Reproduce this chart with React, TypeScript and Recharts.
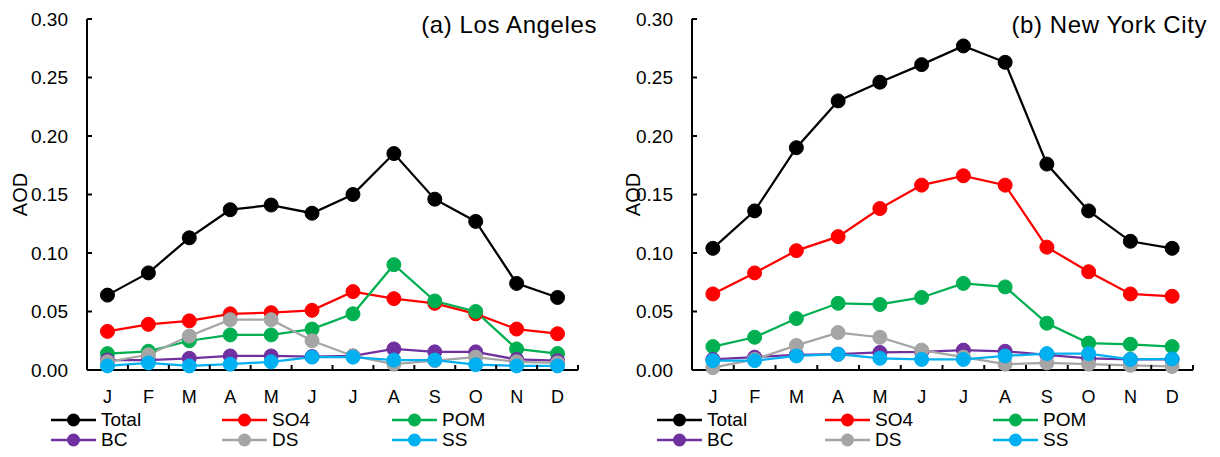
import React from "react";
import { LineChart, Line, XAxis, YAxis } from "recharts";

const FONT = "'Liberation Sans', Arial, sans-serif";

const months = ["J", "F", "M", "A", "M", "J", "J", "A", "S", "O", "N", "D"];
const yTicks = [0, 0.05, 0.1, 0.15, 0.2, 0.25, 0.3];

// (a) Los Angeles
const laTotal = [0.064, 0.083, 0.113, 0.137, 0.141, 0.134, 0.150, 0.185, 0.146, 0.127, 0.074, 0.062];
const laSO4 = [0.033, 0.039, 0.042, 0.048, 0.049, 0.051, 0.067, 0.061, 0.057, 0.048, 0.035, 0.031];
const laPOM = [0.014, 0.016, 0.025, 0.030, 0.030, 0.035, 0.048, 0.090, 0.059, 0.050, 0.018, 0.014];
const laBC = [0.0085, 0.0085, 0.010, 0.012, 0.012, 0.0115, 0.012, 0.018, 0.0155, 0.0155, 0.009, 0.008];
const laDS = [0.007, 0.013, 0.029, 0.043, 0.043, 0.025, 0.012, 0.005, 0.008, 0.011, 0.007, 0.006];
const laSS = [0.0035, 0.006, 0.0035, 0.005, 0.007, 0.011, 0.011, 0.0085, 0.0085, 0.0045, 0.0035, 0.0035];

// (b) New York City
const nyTotal = [0.104, 0.136, 0.190, 0.230, 0.246, 0.261, 0.277, 0.263, 0.176, 0.136, 0.110, 0.104];
const nySO4 = [0.065, 0.083, 0.102, 0.114, 0.138, 0.158, 0.166, 0.158, 0.105, 0.084, 0.065, 0.063];
const nyPOM = [0.020, 0.028, 0.044, 0.057, 0.056, 0.062, 0.074, 0.071, 0.040, 0.023, 0.022, 0.020];
const nyBC = [0.009, 0.011, 0.013, 0.0135, 0.015, 0.0155, 0.017, 0.016, 0.013, 0.010, 0.009, 0.009];
const nyDS = [0.002, 0.009, 0.021, 0.032, 0.028, 0.017, 0.011, 0.005, 0.006, 0.005, 0.004, 0.003];
const nySS = [0.008, 0.008, 0.012, 0.0135, 0.010, 0.009, 0.009, 0.012, 0.014, 0.014, 0.009, 0.0095];

const SERIES = [
  { key: "total", name: "Total", color: "#000000" },
  { key: "so4", name: "SO4", color: "#ff0000" },
  { key: "pom", name: "POM", color: "#00b050" },
  { key: "bc", name: "BC", color: "#7030a0" },
  { key: "ds", name: "DS", color: "#a5a5a5" },
  { key: "ss", name: "SS", color: "#00b0f0" },
];

function buildRows(cols: Record<string, number[]>) {
  return months.map((m, i) => {
    const row: Record<string, number | string> = { i, m };
    Object.keys(cols).forEach((k) => (row[k] = cols[k][i]));
    return row;
  });
}

const laData = buildRows({ total: laTotal, so4: laSO4, pom: laPOM, bc: laBC, ds: laDS, ss: laSS });
const nyData = buildRows({ total: nyTotal, so4: nySO4, pom: nyPOM, bc: nyBC, ds: nyDS, ss: nySS });

const YTick = (props: any) => {
  const { x, y, payload } = props;
  return (
    <g>
      <line x1={x} x2={x + 5} y1={y} y2={y} stroke="#000" strokeWidth={2} />
      <text x={x - 19} y={y} dy="0.36em" textAnchor="end" fontSize={19} fontFamily={FONT} fill="#000">
        {Number(payload.value).toFixed(2)}
      </text>
    </g>
  );
};

const makeMonthTick = (bw: number) => (props: any) => {
  const { x, y, payload, index } = props;
  return (
    <g>
      {index > 0 && <line x1={x - bw / 2} x2={x - bw / 2} y1={y} y2={y - 5} stroke="#000" strokeWidth={2} />}
      {index === months.length - 1 && (
        <line x1={x + bw / 2} x2={x + bw / 2} y1={y} y2={y - 5} stroke="#000" strokeWidth={2} />
      )}
      <text x={x} y={y + 33} textAnchor="middle" fontSize={18} fontFamily={FONT} fill="#000">
        {months[payload.value]}
      </text>
    </g>
  );
};

interface PanelProps {
  data: Record<string, number | string>[];
  left: number;
  yAxisWidth: number;
  plotWidth: number;
  title: string;
  titleRight: number;
  labelOffset: number;
  legendCols: number[];
}

const W = 610;
const H = 457;
const TOP = 19;
const BOTTOM = 370;

function Panel({ data, left, yAxisWidth, plotWidth, title, titleRight, labelOffset, legendCols }: PanelProps) {
  const bw = plotWidth / 12;
  const marginRight = W - yAxisWidth - plotWidth;
  return (
    <>
      <div style={{ position: "absolute", left, top: 0 }}>
        <LineChart
          width={W}
          height={H}
          data={data}
          margin={{ top: TOP, right: marginRight, left: 0, bottom: H - BOTTOM - 30 }}
        >
          <XAxis
            dataKey="i"
            height={30}
            interval={0}
            padding={{ left: bw / 2, right: bw / 2 }}
            axisLine={{ stroke: "#000", strokeWidth: 2 }}
            tickLine={false}
            tickSize={0}
            tickMargin={0}
            tick={makeMonthTick(bw)}
          />
          <YAxis
            width={yAxisWidth}
            domain={[0, 0.3]}
            ticks={yTicks}
            interval={0}
            axisLine={{ stroke: "#000", strokeWidth: 2 }}
            tickLine={false}
            tickSize={0}
            tickMargin={0}
            tick={YTick}
            label={{
              value: "AOD",
              angle: -90,
              position: "insideLeft",
              offset: labelOffset,
              style: { textAnchor: "middle", fontSize: 20, fontFamily: FONT, fill: "#000" },
            }}
          />
          {SERIES.map((s) => (
            <Line
              key={s.key}
              dataKey={s.key}
              name={s.name}
              stroke={s.color}
              strokeWidth={2.25}
              dot={{ r: 7, fill: s.color, stroke: s.color, strokeWidth: 1 }}
              activeDot={false}
              isAnimationActive={false}
            />
          ))}
        </LineChart>
      </div>
      <div
        style={{
          position: "absolute",
          right: titleRight,
          top: 12.7,
          fontSize: 24,
          lineHeight: "24px",
          letterSpacing: 0.6,
          fontFamily: FONT,
          color: "#000",
          whiteSpace: "nowrap",
        }}
      >
        {title}
      </div>
      {SERIES.map((s, k) => {
        const col = k % 3;
        const row = Math.floor(k / 3);
        return (
          <div
            key={s.key}
            style={{
              position: "absolute",
              left: legendCols[col],
              top: 420 + row * 20 - 10,
              height: 20,
              display: "flex",
              alignItems: "center",
              fontFamily: FONT,
              fontSize: 19,
              color: "#000",
              whiteSpace: "nowrap",
            }}
          >
            <svg width={46} height={20} style={{ display: "block" }}>
              <line x1={0} x2={45} y1={10} y2={10} stroke={s.color} strokeWidth={2.5} />
              <circle cx={22.5} cy={10} r={6.5} fill={s.color} />
            </svg>
            <span style={{ marginLeft: 4 }}>{s.name}</span>
          </div>
        );
      })}
    </>
  );
}

export default function App() {
  return (
    <div style={{ position: "absolute", left: 0, top: 0, width: 1220, height: 457, background: "#fff", overflow: "hidden" }}>
      <Panel
        data={laData}
        left={0}
        yAxisWidth={87}
        plotWidth={491}
        title="(a) Los Angeles"
        titleRight={1220 - 597}
        labelOffset={20}
        legendCols={[51, 222, 392]}
      />
      <Panel
        data={nyData}
        left={610}
        yAxisWidth={82}
        plotWidth={501}
        title="(b) New York City"
        titleRight={1220 - 1207}
        labelOffset={23}
        legendCols={[657, 825, 993]}
      />
    </div>
  );
}
